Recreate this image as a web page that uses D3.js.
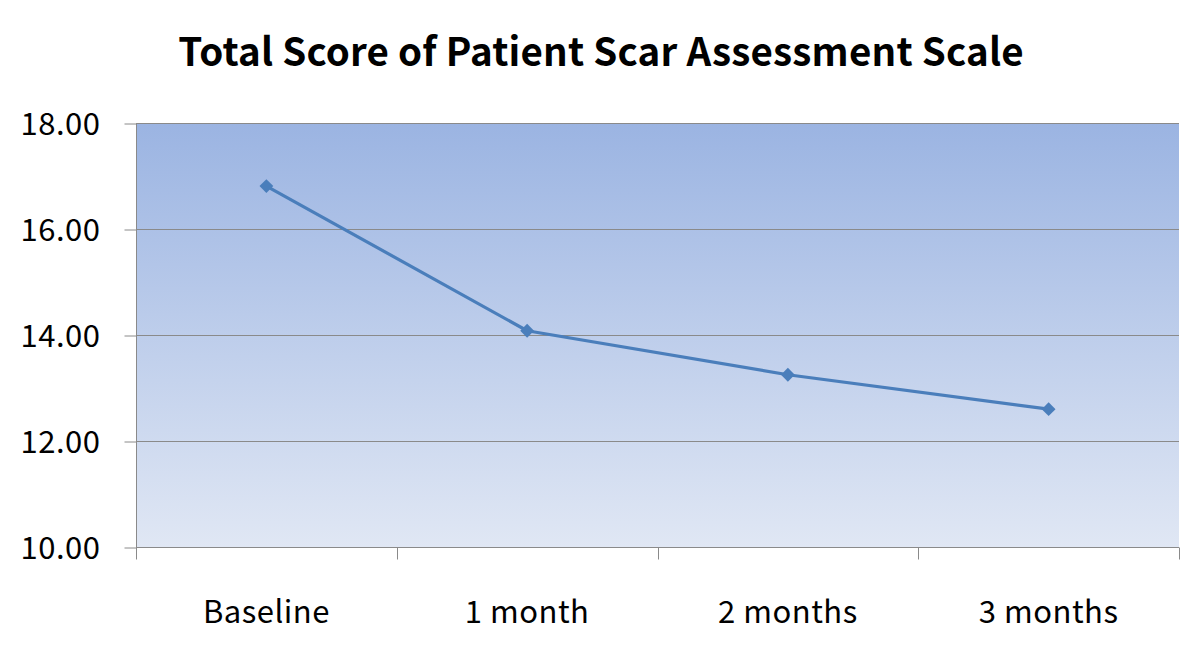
<!DOCTYPE html>
<html><head><meta charset="utf-8">
<script src="https://cdn.jsdelivr.net/npm/d3@7"></script>
<style>body{margin:0;background:#fff;} svg{display:block;}</style>
</head><body>
<svg id="chart" width="1200" height="660"></svg>
<script>
const title = "Total Score of Patient Scar Assessment Scale";
const categories = ["Baseline", "1 month", "2 months", "3 months"];
const scores = [16.81, 14.08, 13.25, 12.60];
const yTicks = [10, 12, 14, 16, 18];

const svg = d3.select("#chart");
const L = 136, R = 1179, T = 123, B = 547;
const font = "'Noto Sans CJK KR', 'Open Sans', sans-serif";

const x = d3.scaleBand().domain(categories).range([L, R]).padding(0);
const y = d3.scaleLinear().domain([10, 18]).range([B, T]);

const defs = svg.append("defs");
const g = defs.append("linearGradient").attr("id","bg").attr("x1",0).attr("y1",0).attr("x2",0).attr("y2",1);
g.append("stop").attr("offset","0%").attr("stop-color","#9bb4e2");
g.append("stop").attr("offset","100%").attr("stop-color","#e0e7f4");

svg.append("rect").attr("x",L).attr("y",T).attr("width",R-L).attr("height",B-T).attr("fill","url(#bg)");

// gridlines
svg.append("g").selectAll("line").data(yTicks).join("line")
  .attr("x1", L).attr("x2", R)
  .attr("y1", d=>Math.round(y(d))+0.5).attr("y2", d=>Math.round(y(d))+0.5)
  .attr("stroke", "#8a8a8a").attr("stroke-width",1);

// y axis
const yAxis = d3.axisLeft(y).tickValues(yTicks).tickFormat(d3.format(".2f")).tickSize(12).tickPadding(24);
const ya = svg.append("g").attr("transform",`translate(${L+0.5},0.5)`).call(yAxis);
ya.select(".domain").attr("stroke","#8a8a8a").attr("d", `M0,${T}V${B}`);
ya.selectAll(".tick line").attr("stroke","#8a8a8a");
ya.selectAll("text").attr("font-family",font).attr("font-size",31).attr("letter-spacing","0.5px").attr("fill","#000").attr("dy","0.35em");

// x axis
const xAxis = d3.axisBottom(x).tickSize(0).tickPadding(53);
const xa = svg.append("g").attr("transform",`translate(0,${B+0.5})`).call(xAxis);
xa.select(".domain").attr("stroke","#8a8a8a").attr("d", `M${L},0H${R}`);
xa.selectAll("text").attr("font-family",font).attr("font-size",31).attr("letter-spacing","0.5px").attr("fill","#000");
// category boundary ticks
const bounds = categories.map(c=>x(c)).concat([R]);
xa.append("g").selectAll("line").data(bounds).join("line")
  .attr("x1",d=>Math.round(d)+0.5).attr("x2",d=>Math.round(d)+0.5).attr("y1",0).attr("y2",12)
  .attr("stroke","#8a8a8a");

// line
const cx = d => x(d) + x.bandwidth()/2;
const line = d3.line().x((d,i)=>cx(categories[i])).y(d=>y(d));
svg.append("path").datum(scores).attr("d", line).attr("fill","none")
  .attr("stroke","#4a7ebb").attr("stroke-width",3.2).attr("stroke-linejoin","round");
svg.append("g").selectAll("path").data(scores).join("path")
  .attr("d", d3.symbol(d3.symbolSquare, 95))
  .attr("transform",(d,i)=>`translate(${cx(categories[i])},${y(d)}) rotate(45)`)
  .attr("fill","#4a7ebb");

svg.append("text").attr("x",601).attr("y",66).attr("text-anchor","middle")
  .attr("font-family",font).attr("font-weight","bold").attr("font-size",38.5).attr("letter-spacing","0.2px").attr("fill","#000")
  .text(title);
</script>
</body></html>
